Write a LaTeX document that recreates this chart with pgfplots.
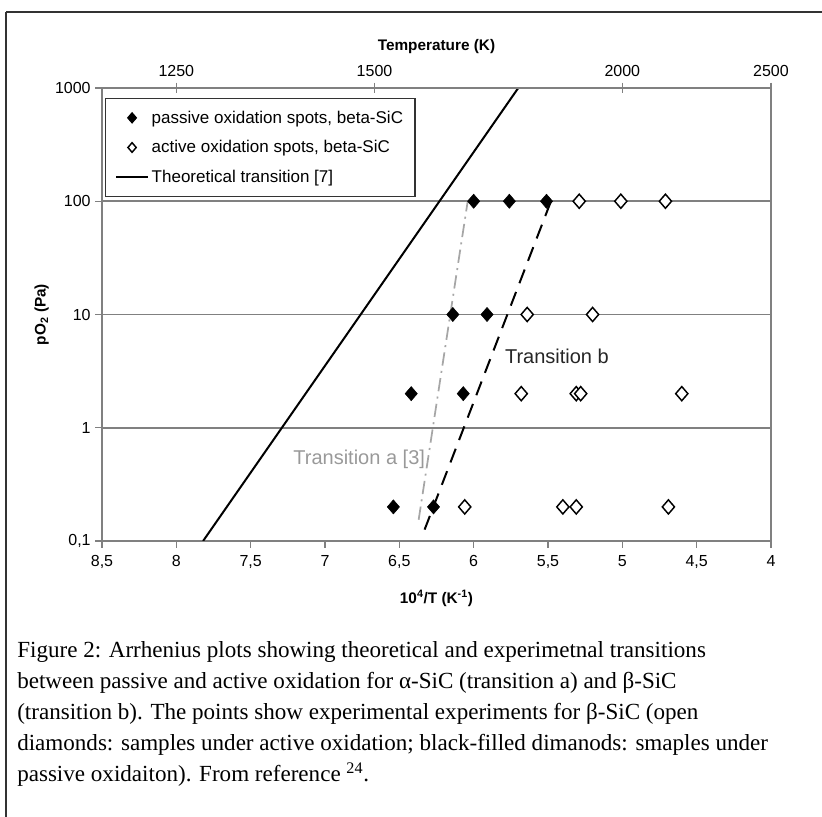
\documentclass[border=0pt]{standalone}
\usepackage{fontspec}
\setmainfont{Liberation Serif}
\newfontfamily\arial{Liberation Sans}
\usepackage{pgfplots}
\pgfplotsset{compat=1.18}
\definecolor{axgray}{HTML}{808080}
\definecolor{framegray}{HTML}{333333}
\pgfplotsset{
  marklegend/.style={legend image code/.code={\draw[##1, mark size=3.6pt] plot coordinates {(12pt,0pt)};}},
  linelegend/.style={legend image code/.code={\draw[##1] (0pt,0pt) -- (24pt,0pt);}},
}

\begin{document}
\begin{tikzpicture}
\useasboundingbox (0pt,0pt) rectangle (616.5pt,612.75pt);
% outer figure frame (runs off the right and bottom edge)
\draw[framegray, line width=1.5pt] (4.5pt,603.75pt) -- (640pt,603.75pt);
\draw[framegray, line width=1.5pt] (4.5pt,603.75pt) -- (4.5pt,-20pt);

% main axis: 10^4/T against pO2
\begin{axis}[
  at={(76.5pt,207pt)}, anchor=south west,
  scale only axis, width=501.75pt, height=339.75pt,
  x dir=reverse, xmin=4, xmax=8.5,
  ymode=log, ymin=0.1, ymax=1000,
  xtick={4,4.5,5,5.5,6,6.5,7,7.5,8,8.5},
  xticklabels={4,{4,5},5,{5,5},6,{6,5},7,{7,5},8,{8,5}},
  ytick={0.1,1,10,100,1000},
  yticklabels={{0,1},1,10,100,1000},
  yminorticks=false,
  xtick pos=bottom, ytick pos=left,
  tick align=outside, major tick length=5pt,
  tick style={axgray, line width=1pt},
  axis line style={axgray, line width=1.2pt},
  ymajorgrids, major grid style={axgray, line width=1.2pt},
  ticklabel style={font=\arial\fontsize{12}{14}\selectfont},
  xticklabel style={yshift=-2pt},
  xlabel={10\textsuperscript{4}/T (K\textsuperscript{-1})},
  ylabel={pO\textsubscript{2} (Pa)},
  label style={font=\arial\bfseries\fontsize{11.5}{13}\selectfont},
  xlabel style={at={(axis description cs:0.5,-0.126)}, anchor=center},
  ylabel style={at={(axis description cs:-0.09,0.5)}, anchor=center},
  legend cell align=left,
  legend style={at={(0.0045,0.978)}, anchor=north west,
    draw=framegray, line width=1.1pt, inner xsep=7pt, inner ysep=7pt,
    font=\arial\fontsize{12.75}{15}\selectfont, row sep=7.5pt,
    /tikz/every even column/.append style={column sep=0pt}},
]
\addplot[only marks, mark=diamond*, mark size=5.3pt, black,
  mark options={xscale=1.15}, marklegend]
  coordinates {(6.00,100)(5.76,100)(5.51,100)
               (6.14,10)(5.91,10)
               (6.42,2)(6.07,2)
               (6.54,0.2)(6.27,0.2)};
\addlegendentry{passive oxidation spots, beta-SiC}
\addplot[only marks, mark=diamond*, mark size=5.3pt, black,
  mark options={fill=white, line width=1.1pt, xscale=1.15}, marklegend]
  coordinates {(5.29,100)(5.01,100)(4.71,100)
               (5.64,10)(5.20,10)
               (5.68,2)(5.31,2)(5.28,2)(4.60,2)
               (6.06,0.2)(5.40,0.2)(5.31,0.2)(4.69,0.2)};
\addlegendentry{active oxidation spots, beta-SiC}
\addplot[black, line width=1.5pt, linelegend]
  coordinates {(7.82,0.1)(5.70,1000)};
\addlegendentry{Theoretical transition [7]}
% transition b (beta-SiC)
\addplot[black, line width=1.5pt, dash pattern=on 11pt off 7pt, forget plot]
  coordinates {(6.33,0.126)(5.48,100)};
% transition a (alpha-SiC)
\addplot[black!35, line width=1.3pt, dash pattern=on 10pt off 4pt on 1.5pt off 4pt, forget plot]
  coordinates {(6.37,0.154)(6.04,100)};
\node[font=\arial\fontsize{15}{17}\selectfont, text=black!85] at (axis cs:5.44,4.24) {Transition b};
\node[font=\arial\fontsize{15}{17}\selectfont, text=black!40] at (axis cs:6.77,0.521) {Transition a [3]};
\end{axis}

% top axis: temperature
\begin{axis}[
  at={(76.5pt,207pt)}, anchor=south west,
  scale only axis, width=501.75pt, height=339.75pt,
  x dir=reverse, xmin=4, xmax=8.5, ymin=0, ymax=1,
  axis x line*=top, axis y line=none,
  xtick={8,6.6667,5,4}, xticklabels={1250,1500,2000,2500},
  tick align=center, major tick length=8pt,
  tick style={axgray, line width=1pt},
  axis line style={axgray, line width=1.2pt},
  ticklabel style={font=\arial\fontsize{12}{14}\selectfont},
  xticklabel style={yshift=1pt},
  xlabel={Temperature (K)},
  xlabel style={font=\arial\bfseries\fontsize{11.5}{13}\selectfont,
    at={(axis description cs:0.5,1.0905)}, anchor=center},
]
\end{axis}

% caption
\begin{scope}[every node/.style={anchor=base west, inner sep=0pt, font=\fontsize{17.3}{19}\selectfont}]
\node at (12.75pt,119.25pt) {Figure 2: Arrhenius plots showing theoretical and experimetnal transitions};
\node at (12.75pt,96pt) {between passive and active oxidation for α-SiC (transition a) and β-SiC};
\node at (12.75pt,72.75pt) {(transition b). The points show experimental experiments for β-SiC (open};
\node at (12.75pt,49.5pt) {diamonds: samples under active oxidation; black-filled dimanods: smaples under};
\node at (12.75pt,26.25pt) {passive oxidaiton). From reference \textsuperscript{24}.};
\end{scope}
\end{tikzpicture}
\end{document}
